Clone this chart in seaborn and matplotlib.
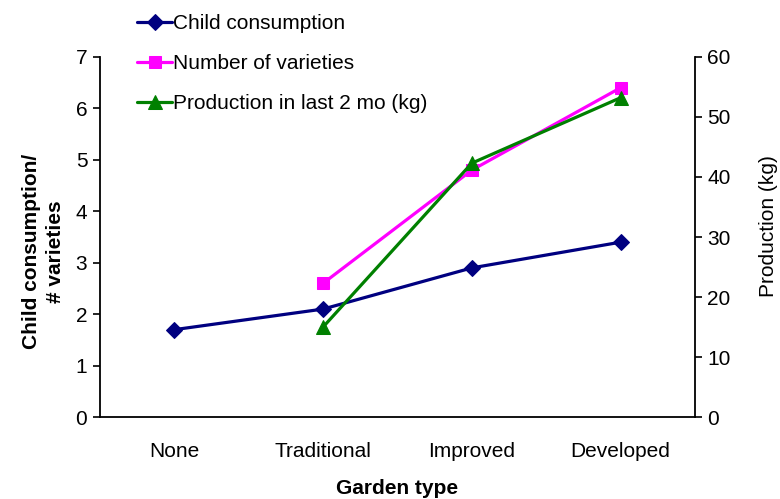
import numpy as np
import pandas as pd
import matplotlib
matplotlib.use("Agg")
import matplotlib.pyplot as plt
import seaborn as sns

# Garden-type survey summary
categories = ["None", "Traditional", "Improved", "Developed"]
child_consumption = [1.7, 2.1, 2.9, 3.4]
num_varieties = [np.nan, 2.6, 4.8, 6.4]
production_kg = [np.nan, 15.0, 42.3, 53.2]

left_ticks = [0, 1, 2, 3, 4, 5, 6, 7]
right_ticks = [0, 10, 20, 30, 40, 50, 60]

sns.set_style("ticks")
plt.rcParams["font.family"] = ["Liberation Sans", "DejaVu Sans"]
plt.rcParams["text.color"] = "black"
plt.rcParams["axes.labelcolor"] = "black"
plt.rcParams["xtick.color"] = "black"
plt.rcParams["ytick.color"] = "black"

FS = 15

df = pd.DataFrame({
    "pos": np.arange(len(categories)),
    "garden": categories,
    "child": child_consumption,
    "varieties": num_varieties,
    "production": production_kg,
})

fig = plt.figure(figsize=(7.8, 4.99), dpi=100)
ax = fig.add_axes([0.128, 0.164, 0.763, 0.722])
ax2 = ax.twinx()

navy = "#000080"
magenta = "#FF00FF"
green = "#008000"

sns.lineplot(data=df, x="pos", y="child", ax=ax, color=navy, lw=2.3,
             marker="D", markersize=8, markeredgecolor=navy,
             label="Child consumption", legend=False)
sns.lineplot(data=df.dropna(subset=["varieties"]), x="pos", y="varieties", ax=ax,
             color=magenta, lw=2.3, marker="s", markersize=9,
             markeredgecolor=magenta, label="Number of varieties", legend=False)
sns.lineplot(data=df.dropna(subset=["production"]), x="pos", y="production", ax=ax2,
             color=green, lw=2.3, marker="^", markersize=10,
             markeredgecolor=green, label="Production in last 2 mo (kg)", legend=False)

ax.set_xlim(-0.5, len(categories) - 0.5)
ax.set_ylim(0, 7)
ax2.set_ylim(0, 60)
ax.set_yticks(left_ticks)
ax2.set_yticks(right_ticks)
ax.set_xticks(df["pos"])
ax.set_xticklabels(categories, fontsize=FS)
ax.tick_params(axis="x", length=0, pad=18)
ax.tick_params(axis="y", labelsize=FS, length=5, width=1.2, direction="out", pad=4)
ax2.tick_params(axis="y", labelsize=FS, length=5, width=1.2, direction="out", pad=4)

for a in (ax, ax2):
    a.spines["top"].set_visible(False)
    for s in ("left", "right", "bottom"):
        a.spines[s].set_linewidth(1.3)
        a.spines[s].set_color("black")
ax.spines["right"].set_visible(False)
ax2.spines["left"].set_visible(False)
ax2.spines["bottom"].set_visible(False)

ax.set_xlabel("Garden type", fontsize=FS, fontweight="bold", labelpad=13)
ax.set_ylabel("Child consumption/\n# varieties", fontsize=FS, fontweight="bold",
              linespacing=1.35)
ax.yaxis.set_label_coords(-0.058, 0.46)
ax2.set_ylabel("Production (kg)", fontsize=FS)
ax2.yaxis.set_label_coords(1.108, 0.53)

handles = ax.get_lines()[:2] + ax2.get_lines()[:1]
labels = ["Child consumption", "Number of varieties", "Production in last 2 mo (kg)"]
fig.legend(handles, labels, loc="upper left", bbox_to_anchor=(0.165, 0.988),
           frameon=False, fontsize=FS, handlelength=1.7, handletextpad=0.05,
           labelspacing=1.0, borderaxespad=0)

fig.savefig("out.png", dpi=100)
